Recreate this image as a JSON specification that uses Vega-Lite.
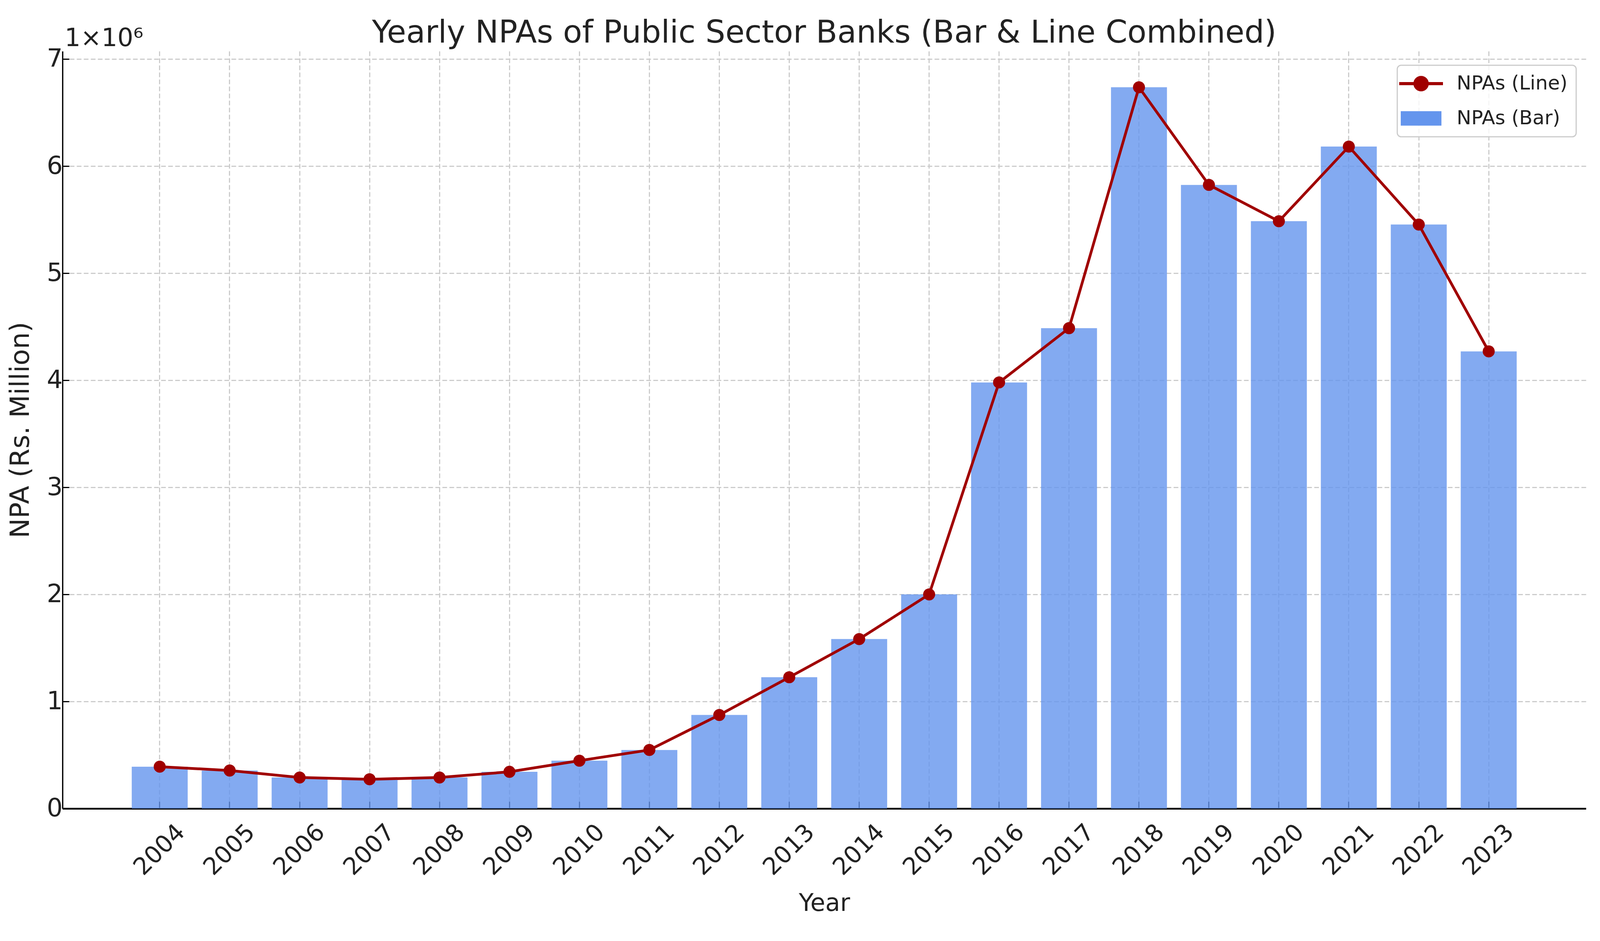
{
  "$schema": "https://vega.github.io/schema/vega-lite/v6.json",
  "width": 3900,
  "height": 1938,
  "autosize": {"type": "none"},
  "padding": {"left": 160, "top": 131, "right": 34, "bottom": 296},
  "background": "white",
  "title": {
    "text": "Yearly NPAs of Public Sector Banks (Bar & Line Combined)",
    "fontSize": 80,
    "fontWeight": "normal",
    "color": "#222222",
    "anchor": "middle",
    "frame": "group",
    "offset": -60
  },
  "data": {
    "values": [
      {"year": "2004", "npa": 391000},
      {"year": "2005", "npa": 355000},
      {"year": "2006", "npa": 290000},
      {"year": "2007", "npa": 273000},
      {"year": "2008", "npa": 290000},
      {"year": "2009", "npa": 343000},
      {"year": "2010", "npa": 447000},
      {"year": "2011", "npa": 547000},
      {"year": "2012", "npa": 874000},
      {"year": "2013", "npa": 1226000},
      {"year": "2014", "npa": 1583000},
      {"year": "2015", "npa": 2000000},
      {"year": "2016", "npa": 3980000},
      {"year": "2017", "npa": 4487000},
      {"year": "2018", "npa": 6737000},
      {"year": "2019", "npa": 5825000},
      {"year": "2020", "npa": 5486000},
      {"year": "2021", "npa": 6183000},
      {"year": "2022", "npa": 5455000},
      {"year": "2023", "npa": 4270000}
    ]
  },
  "encoding": {
    "x": {
      "field": "year",
      "type": "ordinal",
      "scale": {"type": "band", "paddingInner": 0.2, "paddingOuter": 0.99},
      "axis": {
        "title": "Year",
        "labelAngle": -45,
        "labelAlign": "center",
        "labelBaseline": "middle",
        "labelPadding": 124,
        "labelFontSize": 61,
        "labelOverlap": false,
        "titleFontSize": 62,
        "titlePadding": 30,
        "tickSize": -18,
        "domainWidth": 4.5,
        "bandPosition": 0.5
      }
    }
  },
  "layer": [
    {
      "mark": {"type": "bar", "opacity": 0.8},
      "encoding": {
        "y": {
          "field": "npa",
          "type": "quantitative",
          "scale": {"domain": [0, 7074000], "nice": false},
          "axis": {
            "title": "NPA (Rs. Million)",
            "values": [0, 1000000, 2000000, 3000000, 4000000, 5000000, 6000000, 7000000],
            "labelExpr": "format(datum.value / 1000000, 'd')",
            "labelFontSize": 64,
            "labelPadding": 17,
            "tickSize": -17,
            "titleFontSize": 68,
            "titlePadding": 32
          }
        },
        "color": {
          "datum": "NPAs (Bar)",
          "scale": {"domain": ["NPAs (Line)", "NPAs (Bar)"], "range": ["#A00000", "#6495ED"]},
          "legend": {
            "title": null,
            "orient": "none",
            "legendX": 3417,
            "legendY": 36,
            "symbolSize": 12544,
            "symbolOffset": 14,
            "labelFontSize": 50,
            "labelLimit": 0,
            "labelColor": "#222222",
            "labelOffset": 66,
            "rowPadding": 32,
            "padding": 22,
            "strokeColor": "#cccccc",
            "cornerRadius": 10,
            "fillColor": "rgba(255,255,255,0.8)",
            "encoding": {
              "legend": {
                "strokeWidth": {"value": 3}
              },
              "symbols": {
                "shape": {"value": {"expr": "datum.value === 'NPAs (Line)' ? 'M-1,0H1M0.28,0A0.28,0.28,0,1,1,-0.28,0A0.28,0.28,0,1,1,0.28,0Z' : 'M-0.93,-0.33H0.93V0.33H-0.93Z'"}},
                "fill": {"value": {"expr": "datum.value === 'NPAs (Line)' ? '#A00000' : '#83AAF0'"}},
                "stroke": {"value": {"expr": "datum.value === 'NPAs (Line)' ? '#A00000' : '#83AAF0'"}},
                "strokeWidth": {"value": {"expr": "datum.value === 'NPAs (Line)' ? 8 : 0"}},
                "opacity": {"value": 1},
                "fillOpacity": {"value": 1},
                "strokeOpacity": {"value": 1}
              }
            }
          }
        }
      }
    },
    {
      "mark": {"type": "line", "strokeWidth": 7, "point": {"filled": true, "size": 950}},
      "encoding": {
        "y": {
          "field": "npa",
          "type": "quantitative",
          "axis": {
            "orient": "left",
            "title": "1×10⁶",
            "labels": false,
            "ticks": false,
            "domain": false,
            "grid": false,
            "titleAngle": 0,
            "titleX": 5,
            "titleY": -14,
            "titleAlign": "left",
            "titleBaseline": "alphabetic",
            "titleFontSize": 64
          }
        },
        "color": {"datum": "NPAs (Line)"}
      }
    }
  ],
  "resolve": {"axis": {"y": "independent"}},
  "config": {
    "view": {"stroke": null},
    "font": "DejaVu Sans",
    "axis": {
      "labelColor": "#222222",
      "titleColor": "#222222",
      "titleFontWeight": "normal",
      "domainColor": "#000000",
      "domainWidth": 3.3,
      "tickColor": "#000000",
      "tickWidth": 3,
      "grid": true,
      "gridColor": "#cccccc",
      "gridDash": [12, 6],
      "gridWidth": 3
    }
  }
}
